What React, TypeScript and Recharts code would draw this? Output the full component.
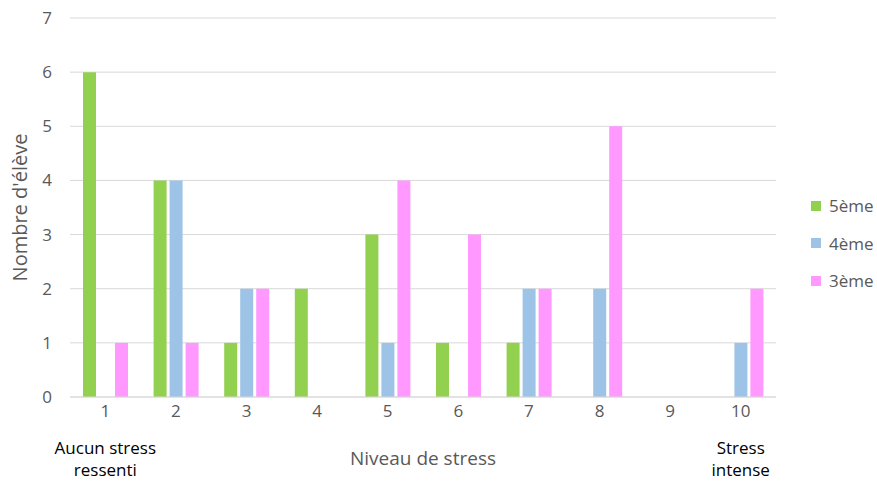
import React from 'react';
import { BarChart, Bar, XAxis, YAxis, CartesianGrid, Legend } from 'recharts';

const niveaux = ['1', '2', '3', '4', '5', '6', '7', '8', '9', '10'];
const cinquieme = [6, 4, 1, 2, 3, 1, 1, 0, 0, 0];
const quatrieme = [0, 4, 2, 0, 1, 0, 2, 2, 0, 1];
const troisieme = [1, 1, 2, 0, 4, 3, 2, 5, 0, 2];
const yTicks = [0, 1, 2, 3, 4, 5, 6, 7];
const extraLabels: Record<string, string[]> = {
    '1': ['Aucun stress', 'ressenti'],
    '10': ['Stress', 'intense'],
};

const series = [
    { key: 'c5', name: '5ème', color: '#92D050' },
    { key: 'c4', name: '4ème', color: '#9DC3E6' },
    { key: 'c3', name: '3ème', color: '#FF99FF' },
];

const data = niveaux.map((n, i) => ({
    niveau: n,
    c5: cinquieme[i],
    c4: quatrieme[i],
    c3: troisieme[i],
}));

const FONT = '"Open Sans", sans-serif';

const XTick = (props: any) => {
    const { x, y, payload } = props;
    const extra = extraLabels[payload.value] || [];
    return (
        <g>
            <text x={x} y={y + 12} textAnchor="middle" fill="#595959" fontSize={17} fontFamily={FONT}>
                {payload.value}
            </text>
            {extra.map((line, i) => (
                <text key={i} x={x} y={y + 49 + i * 22} textAnchor="middle" fill="#000" fontSize={17} fontFamily={FONT}>
                    {line}
                </text>
            ))}
        </g>
    );
};

const LegendContent = () => (
    <div style={{ fontFamily: FONT, fontSize: 17, color: '#595959' }}>
        {series.map((s) => (
            <div key={s.key} style={{ display: 'flex', alignItems: 'center', height: 37.5, whiteSpace: 'nowrap' }}>
                <span style={{ width: 10, height: 10, background: s.color, marginRight: 8, flexShrink: 0 }} />
                {s.name}
            </div>
        ))}
    </div>
);

export default function App() {
    return (
        <div style={{ position: 'absolute', left: 0, top: 0, background: '#fff' }}>
            <BarChart
                width={877}
                height={486}
                data={data}
                margin={{ top: 18, right: 35, left: 0, bottom: 0 }}
                barSize={13}
                barGap={3}
            >
                <CartesianGrid vertical={false} stroke="#d9d9d9" />
                <XAxis
                    dataKey="niveau"
                    height={89}
                    tick={<XTick />}
                    tickLine={false}
                    axisLine={{ stroke: '#d9d9d9' }}
                    interval={0}
                    label={{ value: 'Niveau de stress', position: 'insideBottom', offset: 21, fill: '#595959', fontSize: 19, fontFamily: FONT }}
                />
                <YAxis
                    width={70}
                    domain={[0, 7]}
                    ticks={yTicks}
                    tickLine={false}
                    axisLine={false}
                    tick={{ fill: '#595959', fontSize: 17, fontFamily: FONT }}
                    tickMargin={12}
                    label={{ value: "Nombre d'élève", angle: -90, position: 'insideLeft', offset: 20, fill: '#595959', fontSize: 20, fontFamily: FONT, style: { textAnchor: 'middle' } }}
                />
                <Legend
                    layout="vertical"
                    align="right"
                    verticalAlign="middle"
                    content={<LegendContent />}
                    wrapperStyle={{ right: 0, width: 66 }}
                />
                {series.map((s) => (
                    <Bar key={s.key} dataKey={s.key} name={s.name} fill={s.color} isAnimationActive={false} />
                ))}
            </BarChart>
        </div>
    );
}
